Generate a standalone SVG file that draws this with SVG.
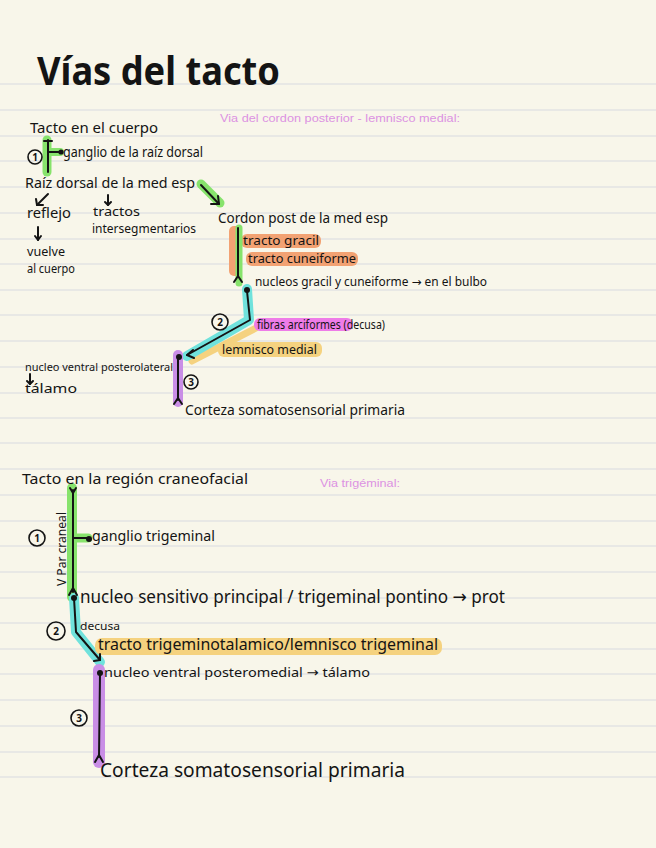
<svg xmlns="http://www.w3.org/2000/svg" width="656" height="848" viewBox="0 0 656 848">
<defs>
<style>
.t{font-family:"Noto Sans","DejaVu Sans",sans-serif;fill:#141414;}
.p{font-family:"Liberation Sans",Arial,sans-serif;fill:#dc92e2;font-size:11px;}
.rule{stroke:#e3e3e3;stroke-width:1.5;}
.ink{stroke:#141414;stroke-width:2;fill:none;stroke-linecap:round;stroke-linejoin:round;}
.hl{fill:none;stroke-linecap:round;stroke-linejoin:round;}
.g{stroke:#87e36c;}
.c{stroke:#70e2dc;}
.pu{stroke:#c98ee6;}
.y{stroke:#f5d27f;}
.num{fill:none;stroke:#141414;stroke-width:1.6;}
.nt{font-family:"Noto Sans","DejaVu Sans",sans-serif;fill:#141414;font-size:10px;font-weight:bold;text-anchor:middle;}
</style>
</defs>
<rect width="656" height="848" fill="#f8f6ea"/>
<g id="rules">
<line class="rule" x1="0" x2="656" y1="84" y2="84"/>
<line class="rule" x1="0" x2="656" y1="110" y2="110"/>
<line class="rule" x1="0" x2="656" y1="136" y2="136"/>
<line class="rule" x1="0" x2="656" y1="161" y2="161"/>
<line class="rule" x1="0" x2="656" y1="187" y2="187"/>
<line class="rule" x1="0" x2="656" y1="213" y2="213"/>
<line class="rule" x1="0" x2="656" y1="239" y2="239"/>
<line class="rule" x1="0" x2="656" y1="264" y2="264"/>
<line class="rule" x1="0" x2="656" y1="290" y2="290"/>
<line class="rule" x1="0" x2="656" y1="315" y2="315"/>
<line class="rule" x1="0" x2="656" y1="341" y2="341"/>
<line class="rule" x1="0" x2="656" y1="367" y2="367"/>
<line class="rule" x1="0" x2="656" y1="393" y2="393"/>
<line class="rule" x1="0" x2="656" y1="418" y2="418"/>
<line class="rule" x1="0" x2="656" y1="443" y2="443"/>
<line class="rule" x1="0" x2="656" y1="469" y2="469"/>
<line class="rule" x1="0" x2="656" y1="495" y2="495"/>
<line class="rule" x1="0" x2="656" y1="521" y2="521"/>
<line class="rule" x1="0" x2="656" y1="546" y2="546"/>
<line class="rule" x1="0" x2="656" y1="572" y2="572"/>
<line class="rule" x1="0" x2="656" y1="598" y2="598"/>
<line class="rule" x1="0" x2="656" y1="623" y2="623"/>
<line class="rule" x1="0" x2="656" y1="649" y2="649"/>
<line class="rule" x1="0" x2="656" y1="674" y2="674"/>
<line class="rule" x1="0" x2="656" y1="700" y2="700"/>
<line class="rule" x1="0" x2="656" y1="726" y2="726"/>
<line class="rule" x1="0" x2="656" y1="752" y2="752"/>
<line class="rule" x1="0" x2="656" y1="777" y2="777"/>
</g>

<g id="highlights">
<line class="hl g" x1="47" y1="140" x2="47" y2="172" stroke-width="9"/>
<line class="hl g" x1="47" y1="152" x2="60" y2="152" stroke-width="8"/>
<line class="hl g" x1="201" y1="184" x2="220" y2="203" stroke-width="9"/>
<rect x="229" y="226" width="13" height="50" rx="5" fill="#f2a273"/>
<rect x="241" y="234" width="80" height="14" rx="6" fill="#f2a273"/>
<rect x="246" y="252" width="112" height="14" rx="6" fill="#f2a273"/>
<line class="hl g" x1="239" y1="228" x2="239" y2="283" stroke-width="7"/>
<polyline class="hl y" points="256,328 192,361" stroke-width="7"/>
<rect x="218" y="342" width="104" height="15" rx="6" fill="#f5d27f"/>
<rect x="254" y="318" width="99" height="13" rx="6" fill="#ee7ce8"/>
<polyline class="hl c" points="247,289 249,320 187,356" stroke-width="10"/>
<line class="hl pu" x1="178" y1="355" x2="178" y2="402" stroke-width="10"/>
<line class="hl g" x1="72" y1="488" x2="72" y2="597" stroke-width="10"/>
<line class="hl g" x1="72" y1="538" x2="88" y2="538" stroke-width="9"/>
<polyline class="hl c" points="74,598 76,632 100,662" stroke-width="10"/>
<rect x="95" y="638" width="347" height="17" rx="7" fill="#f5d27f"/>
<line class="hl pu" x1="99" y1="670" x2="99" y2="762" stroke-width="12"/>
</g>

<g id="connectors">
<line class="ink" x1="48" y1="140" x2="48" y2="172"/>
<line class="ink" x1="44" y1="141" x2="52" y2="141"/>
<line class="ink" x1="48" y1="152" x2="60" y2="152"/>
<circle cx="61" cy="152" r="2.6" fill="#141414"/>
<line class="ink" x1="201" y1="185" x2="219" y2="204"/>
<polyline class="ink" points="211,204 219,204 218,196"/>
<line class="ink" x1="48" y1="194" x2="37" y2="205" stroke-width="1.5"/>
<polyline class="ink" points="36,199 37,205 43,205" stroke-width="1.5"/>
<line class="ink" x1="108" y1="195" x2="108" y2="205" stroke-width="1.3"/>
<polyline class="ink" points="105,202 108,205 111,202" stroke-width="1.3"/>
<line class="ink" x1="38" y1="227" x2="38" y2="240" stroke-width="1.5"/>
<polyline class="ink" points="35,236 38,240 41,236" stroke-width="1.5"/>
<line class="ink" x1="238" y1="228" x2="238" y2="277"/>
<polyline class="ink" points="234,282 238,276 242,282"/>
<circle cx="247" cy="290" r="3" fill="#141414"/>
<polyline class="ink" points="247,291 250,320 187,355"/>
<polyline class="ink" points="193,350 187,355 194,358"/>
<circle cx="179" cy="357" r="3" fill="#141414"/>
<line class="ink" x1="178" y1="357" x2="178" y2="400"/>
<polyline class="ink" points="174,404 178,398 182,404"/>
<line class="ink" x1="30" y1="374" x2="30" y2="384" stroke-width="1.3"/>
<polyline class="ink" points="27,381 30,384 33,381" stroke-width="1.3"/>
<line class="ink" x1="73" y1="490" x2="73" y2="592"/>
<polyline class="ink" points="70,488 73,493 76,488"/>
<polyline class="ink" points="69,595 73,588 77,595"/>
<line class="ink" x1="73" y1="538" x2="88" y2="538"/>
<circle cx="89" cy="539" r="3" fill="#141414"/>
<circle cx="74" cy="598" r="3" fill="#141414"/>
<polyline class="ink" points="74,598 76,632 100,660"/>
<polyline class="ink" points="94,661 100,660 100,654"/>
<circle cx="100" cy="673" r="3" fill="#141414"/>
<line class="ink" x1="100" y1="673" x2="99" y2="757"/>
<polyline class="ink" points="95,762 99,755 103,762"/>
</g>

<g id="title"><text class="t" x="37" y="85" font-size="40" font-weight="bold" textLength="243" lengthAdjust="spacingAndGlyphs">Vías del tacto</text></g>
<g id="label-cordon"><text class="p" x="220" y="122" textLength="240" lengthAdjust="spacingAndGlyphs">Via del cordon posterior - lemnisco medial:</text></g>
<g id="label-trigeminal"><text class="p" x="320" y="487" textLength="80" lengthAdjust="spacingAndGlyphs">Via trigéminal:</text></g>

<g id="n-tacto-cuerpo"><text class="t" x="30" y="133" font-size="14" textLength="128" lengthAdjust="spacingAndGlyphs">Tacto en el cuerpo</text></g>
<g id="num1a"><circle class="num" cx="35" cy="157" r="7"/><text class="nt" x="35" y="161">1</text></g>
<g id="n-ganglio"><text class="t" x="63" y="157" font-size="14" textLength="140" lengthAdjust="spacingAndGlyphs">ganglio de la raíz dorsal</text></g>
<g id="n-raiz"><text class="t" x="25" y="188" font-size="14" textLength="170" lengthAdjust="spacingAndGlyphs">Raíz dorsal de la med esp</text></g>
<g id="n-reflejo"><text class="t" x="27" y="218" font-size="14" textLength="44" lengthAdjust="spacingAndGlyphs">reflejo</text></g>
<g id="n-tractos"><text class="t" x="93" y="216" font-size="13" textLength="47" lengthAdjust="spacingAndGlyphs">tractos</text><text class="t" x="92" y="233" font-size="13" textLength="104" lengthAdjust="spacingAndGlyphs">intersegmentarios</text></g>
<g id="n-vuelve"><text class="t" x="27" y="256" font-size="12" textLength="38" lengthAdjust="spacingAndGlyphs">vuelve</text><text class="t" x="27" y="273" font-size="12" textLength="48" lengthAdjust="spacingAndGlyphs">al cuerpo</text></g>
<g id="n-cordon"><text class="t" x="218" y="223" font-size="14" textLength="170" lengthAdjust="spacingAndGlyphs">Cordon post de la med esp</text></g>
<g id="n-tractos-gc"><text class="t" x="243" y="245" font-size="13" textLength="76" lengthAdjust="spacingAndGlyphs">tracto gracil</text><text class="t" x="248" y="263" font-size="13" textLength="108" lengthAdjust="spacingAndGlyphs">tracto cuneiforme</text></g>
<g id="n-nucleos"><text class="t" x="255" y="286" font-size="12" textLength="232" lengthAdjust="spacingAndGlyphs">nucleos gracil y cuneiforme → en el bulbo</text></g>
<g id="num2a"><circle class="num" cx="220" cy="322" r="8"/><text class="nt" x="220" y="326">2</text></g>
<g id="n-fibras"><text class="t" x="257" y="329" font-size="12" textLength="128" lengthAdjust="spacingAndGlyphs">fibras arciformes (decusa)</text></g>
<g id="n-lemnisco"><text class="t" x="222" y="354" font-size="12" textLength="95" lengthAdjust="spacingAndGlyphs">lemnisco medial</text></g>
<g id="n-vpl"><text class="t" x="25" y="371" font-size="11" textLength="148" lengthAdjust="spacingAndGlyphs">nucleo ventral posterolateral</text><text class="t" x="25" y="393" font-size="12" textLength="52" lengthAdjust="spacingAndGlyphs">tálamo</text></g>
<g id="num3a"><circle class="num" cx="191" cy="382" r="7"/><text class="nt" x="191" y="386">3</text></g>
<g id="n-corteza1"><text class="t" x="185" y="415" font-size="14" textLength="220" lengthAdjust="spacingAndGlyphs">Corteza somatosensorial primaria</text></g>

<g id="n-tacto-craneo"><text class="t" x="22" y="484" font-size="14" textLength="226" lengthAdjust="spacingAndGlyphs">Tacto en la región craneofacial</text></g>
<g id="n-vpar"><text class="t" x="66" y="586" font-size="12" transform="rotate(-90 66 586)" textLength="74" lengthAdjust="spacingAndGlyphs">V Par craneal</text></g>
<g id="num1b"><circle class="num" cx="37" cy="538" r="8"/><text class="nt" x="37" y="542">1</text></g>
<g id="n-ganglio-trig"><text class="t" x="92" y="541" font-size="14" textLength="123" lengthAdjust="spacingAndGlyphs">ganglio trigeminal</text></g>
<g id="n-nucleo-sens"><text class="t" x="80" y="603" font-size="18" textLength="425" lengthAdjust="spacingAndGlyphs">nucleo sensitivo principal / trigeminal pontino → prot</text></g>
<g id="num2b"><circle class="num" cx="56" cy="631" r="9"/><text class="nt" x="56" y="635">2</text></g>
<g id="n-decusa"><text class="t" x="80" y="630" font-size="11" textLength="40" lengthAdjust="spacingAndGlyphs">decusa</text></g>
<g id="n-tracto-trig"><text class="t" x="98" y="650" font-size="16" textLength="340" lengthAdjust="spacingAndGlyphs">tracto trigeminotalamico/lemnisco trigeminal</text></g>
<g id="n-vpm"><text class="t" x="104" y="677" font-size="13" textLength="266" lengthAdjust="spacingAndGlyphs">nucleo ventral posteromedial → tálamo</text></g>
<g id="num3b"><circle class="num" cx="79" cy="718" r="8"/><text class="nt" x="79" y="722">3</text></g>
<g id="n-corteza2"><text class="t" x="100" y="777" font-size="19" textLength="305" lengthAdjust="spacingAndGlyphs">Corteza somatosensorial primaria</text></g>
</svg>
